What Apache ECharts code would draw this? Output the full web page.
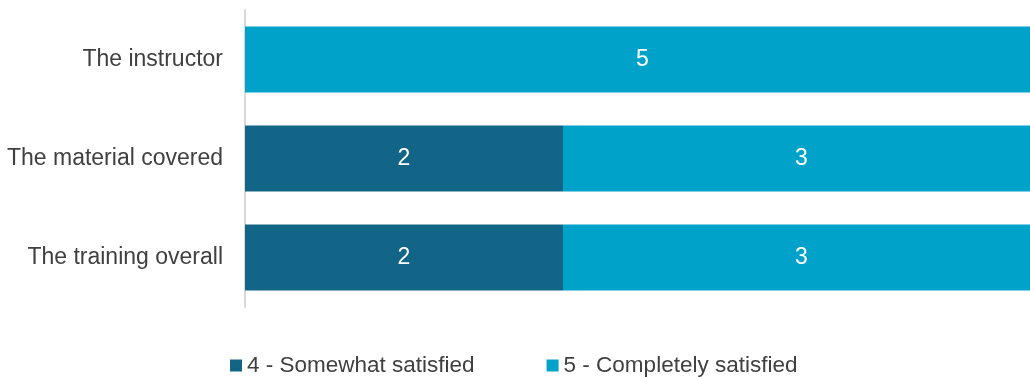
<!DOCTYPE html>
<html>
<head>
<meta charset="utf-8">
<script src="https://cdn.jsdelivr.net/npm/echarts@6/dist/echarts.min.js"></script>
<style>
html,body{margin:0;padding:0;background:#fff;}
#chart{width:1030px;height:377px;}
</style>
</head>
<body>
<div id="chart"></div>
<script>
var categories = ['The training overall', 'The material covered', 'The instructor'];
var somewhat = [2, 2, 0];
var completely = [3, 3, 5];
var seriesNames = ['4 - Somewhat satisfied', '5 - Completely satisfied'];

var font = '"Liberation Sans", sans-serif';
var myChart = echarts.init(document.getElementById('chart'));
var option = {
  animation: false,
  color: ['#126586', '#00A2C9'],
  textStyle: { fontFamily: font },
  legend: {
    data: seriesNames,
    top: 349,
    left: 225,
    itemWidth: 12,
    itemHeight: 12,
    itemGap: 72,
    icon: 'rect',
    textStyle: { fontSize: 22.5, color: '#404040', fontFamily: font }
  },
  grid: { left: 245, top: 10, width: 795, height: 297, outerBoundsMode: 'none' },
  xAxis: {
    type: 'value', min: 0, max: 5,
    show: false
  },
  yAxis: {
    type: 'category',
    data: categories,
    axisLine: { show: true, lineStyle: { color: '#d9d9d9', width: 2 } },
    axisTick: { show: false },
    axisLabel: { fontSize: 23, color: '#404040', margin: 22, fontFamily: font }
  },
  series: [
    {
      name: seriesNames[0], type: 'bar', stack: 'total', barWidth: 66,
      data: somewhat,
      label: { show: true, color: '#fff', fontSize: 23, fontFamily: font,
        formatter: function (p) { return p.value ? p.value : ''; } }
    },
    {
      name: seriesNames[1], type: 'bar', stack: 'total', barWidth: 66,
      data: completely,
      label: { show: true, color: '#fff', fontSize: 23, fontFamily: font,
        formatter: function (p) { return p.value ? p.value : ''; } }
    }
  ]
};
myChart.setOption(option);
</script>
</body>
</html>
